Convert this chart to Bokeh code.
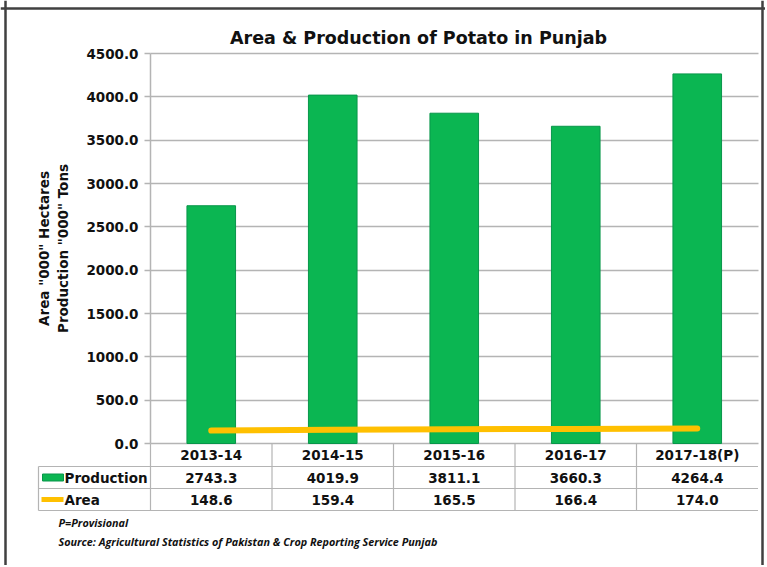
import numpy as np
from bokeh.plotting import figure
from bokeh.models import (LinearAxis, FixedTicker, NumeralTickFormatter, Grid,
                          Range1d, Label, Span, ColumnDataSource)
from bokeh.core.properties import value
from bokeh.embed import file_html
from bokeh.resources import INLINE

# ---------------- data ----------------
chart_title = "Area & Production of Potato in Punjab"
categories = ["2013-14", "2014-15", "2015-16", "2016-17", "2017-18(P)"]
production = [2743.3, 4019.9, 3811.1, 3660.3, 4264.4]
area = [148.6, 159.4, 165.5, 166.4, 174.0]
y_ticks = [0, 500, 1000, 1500, 2000, 2500, 3000, 3500, 4000, 4500]
y_axis_label = 'Area "000" Hectares\nProduction "000" Tons'
series_names = ["Production", "Area"]
notes = ["P=Provisional",
         "Source: Agricultural Statistics of Pakistan & Crop Reporting Service Punjab"]

# ---------------- layout (page pixels) ----------------
W, H = 765, 565
PAGE = 0
AXIS_PX = 150.0
COL_PX = 121.5
ZERO_PY = 443.0
TOP_PY = 53.0
y_per_px = (y_ticks[-1] - y_ticks[0]) / (ZERO_PY - TOP_PY)


def X(px):
    return (px - AXIS_PX) / COL_PX - 0.5


def Y(py):
    return (ZERO_PY - py) * y_per_px


FONT = value("DejaVu Sans")
TXT = "#111111"
GREEN = "#0BB652"
GREEN_EDGE = "#08964A"
ORANGE = "#FFC000"
LINE_GRAY = "#B4B4B4"

p = figure(width=W, height=H,
           x_range=Range1d(X(PAGE), X(PAGE + W)),
           y_range=Range1d(Y(PAGE + H), Y(PAGE)),
           x_axis_location=None, y_axis_location=None,
           toolbar_location=None, output_backend="svg",
           min_border=0, title=None,
           background_fill_color="white", border_fill_color="white",
           outline_line_color=None)
p.xgrid.visible = False
p.ygrid.visible = False

idx = np.arange(len(categories))
n = len(categories)

# ---------------- axis & grid ----------------
ticker = FixedTicker(ticks=y_ticks)
yax = LinearAxis(ticker=ticker, formatter=NumeralTickFormatter(format="0.0"),
                 fixed_location=-0.5, bounds=(y_ticks[0], y_ticks[-1]),
                 axis_label=y_axis_label)
yax.axis_line_color = LINE_GRAY
yax.axis_line_width = 1.5
yax.major_tick_line_color = LINE_GRAY
yax.major_tick_line_width = 1.5
yax.major_tick_out = 6
yax.major_tick_in = 0
yax.minor_tick_line_color = None
yax.major_label_standoff = 6
yax.major_label_text_font = "DejaVu Sans"
yax.major_label_text_font_style = "bold"
yax.major_label_text_font_size = "13.5px"
yax.major_label_text_color = TXT
yax.axis_label_text_font = "DejaVu Sans"
yax.axis_label_text_font_style = "bold"
yax.axis_label_text_font_size = "13.5px"
yax.axis_label_text_color = TXT
yax.axis_label_standoff = 12
p.add_layout(yax, "left")

grid = Grid(dimension=1, ticker=ticker, grid_line_color=LINE_GRAY, grid_line_width=1.5)
if "cross_bounds" in grid.properties():
    grid.cross_bounds = (-0.5, n - 0.5)
    p.add_layout(grid, "center")
else:
    p.add_layout(grid, "center")
    p.quad(left=X(PAGE), right=-0.5 - 0.002, bottom=y_ticks[0] - 40, top=y_ticks[-1] + 40,
           fill_color="white", line_color=None)

# ---------------- series ----------------
src = ColumnDataSource(dict(x=idx, cat=categories, prod=production, area=area,
                            prod_txt=[f"{v:.1f}" for v in production],
                            area_txt=[f"{v:.1f}" for v in area]))
p.vbar(x="x", top="prod", bottom=0, width=0.4, source=src,
       fill_color=GREEN, line_color=GREEN_EDGE, line_width=1)
p.line(x="x", y="area", source=src, line_color=ORANGE, line_width=6, line_cap="round")

# ---------------- data table ----------------
row_edges = [Y(443), Y(466), Y(488), Y(510)]
left_edge = X(38)
p.segment(x0=[left_edge] * 3, x1=[n - 0.5] * 3, y0=row_edges[1:], y1=row_edges[1:],
          line_color=LINE_GRAY, line_width=1.2)
col_edges = list(idx - 0.5)
p.segment(x0=col_edges, x1=col_edges, y0=[row_edges[0]] * n, y1=[row_edges[3]] * n,
          line_color=LINE_GRAY, line_width=1.2)
p.segment(x0=[left_edge], x1=[left_edge], y0=[row_edges[1]], y1=[row_edges[3]],
          line_color=LINE_GRAY, line_width=1.2)

tkw = dict(text_font=FONT, text_font_style="bold", text_font_size="13.5px",
           text_color=TXT, text_baseline="middle")
row_mid = [(row_edges[i] + row_edges[i + 1]) / 2 for i in range(3)]
p.text(x="x", y=row_mid[0], text="cat", source=src, text_align="center", **tkw)
p.text(x="x", y=row_mid[1], text="prod_txt", source=src, text_align="center", **tkw)
p.text(x="x", y=row_mid[2], text="area_txt", source=src, text_align="center", **tkw)
p.text(x=[X(64)] * 2, y=row_mid[1:], text=series_names, text_align="left", **tkw)

# legend keys
p.quad(left=[X(42)], right=[X(63)], top=[row_mid[1] + 3.5 * y_per_px],
       bottom=[row_mid[1] - 3.5 * y_per_px], fill_color=GREEN, line_color=GREEN_EDGE)
p.segment(x0=[X(41)], x1=[X(63)], y0=[row_mid[2]], y1=[row_mid[2]],
          line_color=ORANGE, line_width=5)

# ---------------- title & notes ----------------
p.add_layout(Label(x=X(418), y=Y(37), text=chart_title, text_align="center",
                   text_baseline="middle", text_font="DejaVu Sans", text_font_style="bold",
                   text_font_size="17.5px", text_color=TXT))
for t, py in zip(notes, [522, 541]):
    p.add_layout(Label(x=X(58), y=Y(py), text=t, text_align="left", text_baseline="middle",
                       text_font="Open Sans", text_font_style="bold italic",
                       text_font_size="10.8px", text_color=TXT))

# ---------------- frame border ----------------
for loc, dim in [(X(5), "height"), (X(762), "height"), (Y(8), "width")]:
    p.add_layout(Span(location=loc, dimension=dim, line_color="#404040", line_width=2.5))

open("out.html", "w").write(file_html(p, INLINE))
